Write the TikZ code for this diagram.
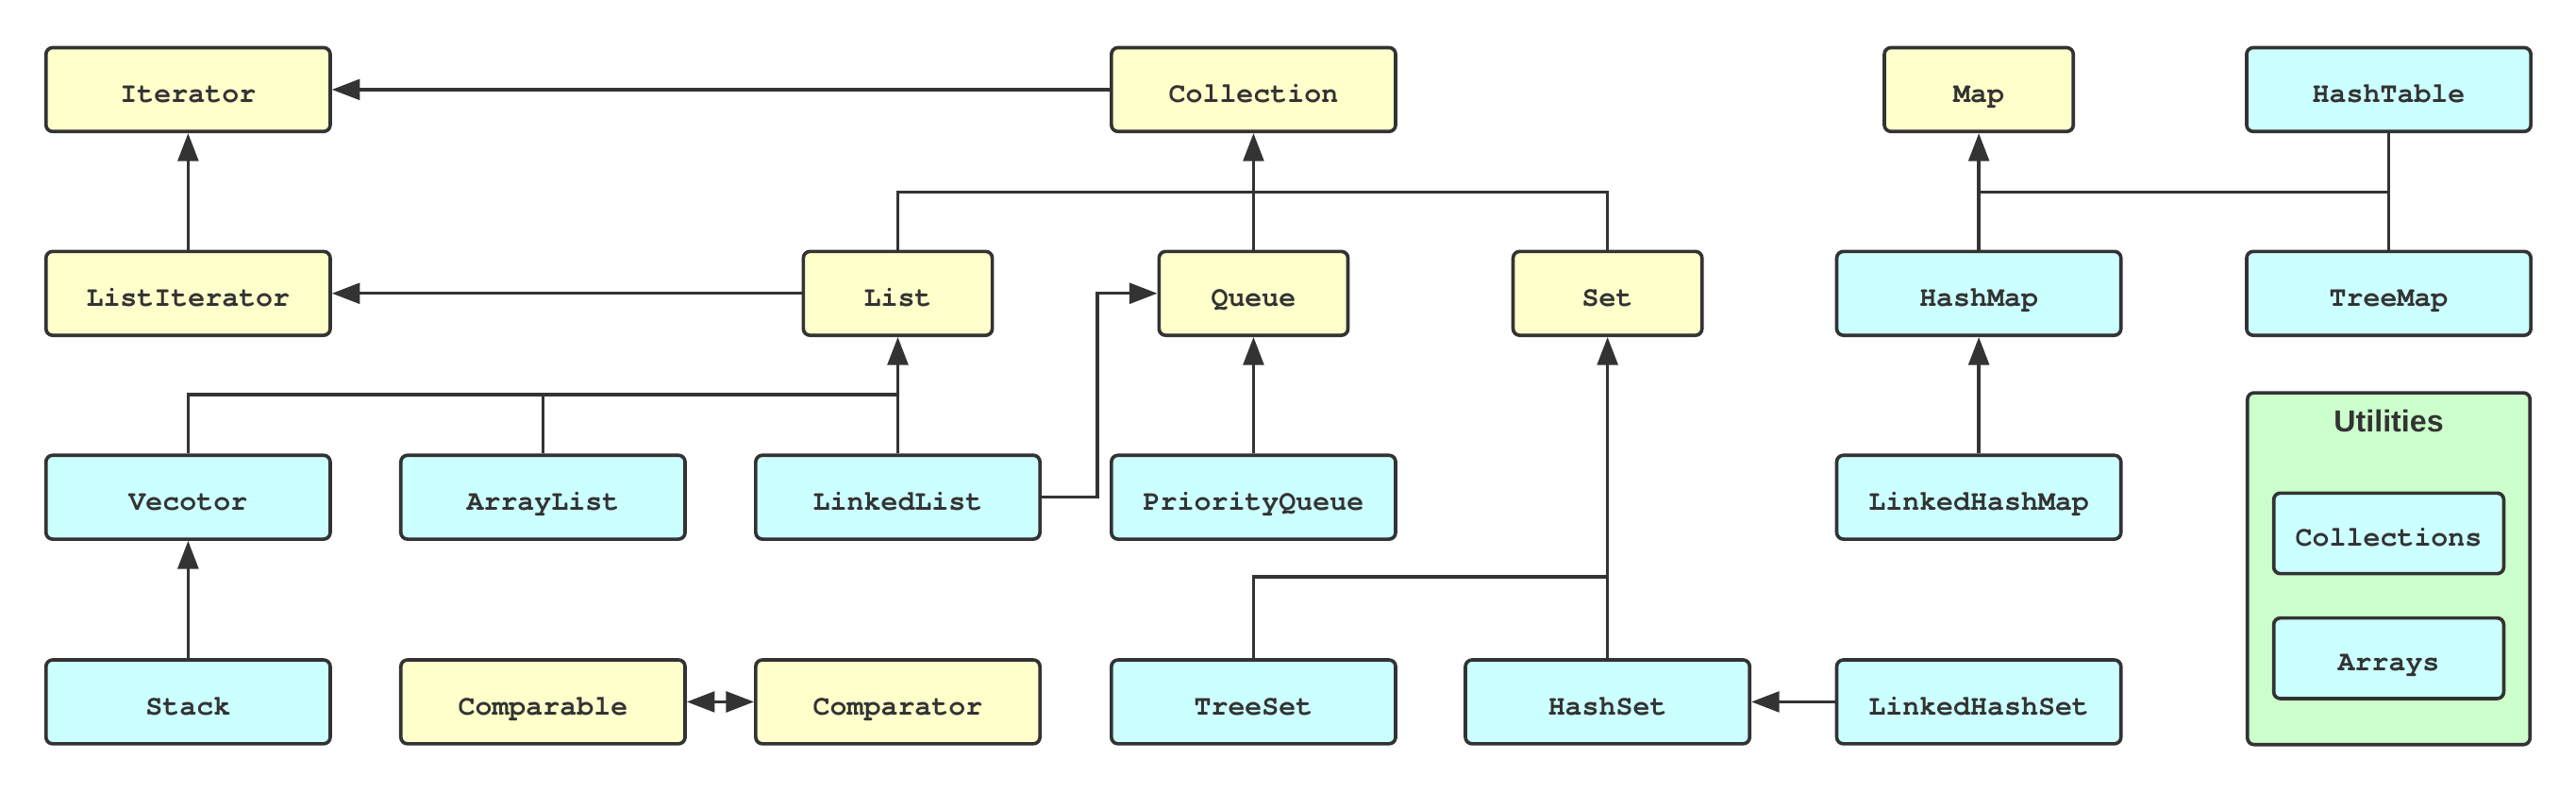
\documentclass[tikz,border=0pt]{standalone}
\usepackage{fontspec}
\newfontfamily\titlefont{Liberation Sans}
\newfontfamily\codefont{texgyrecursor-bold.otf}
\usetikzlibrary{arrows.meta}
\definecolor{ink}{HTML}{333333}
\definecolor{yel}{HTML}{FFFFCC}
\definecolor{cya}{HTML}{CCFFFF}
\definecolor{grn}{HTML}{CCFFCC}
\tikzset{
  box/.style={draw=ink, line width=2.1pt, rounded corners=4pt, minimum height=51pt,
    inner sep=0pt, text=ink, font=\codefont\fontsize{17.2}{20}\selectfont,
    text height=17.6pt, text depth=2pt},
  ybox/.style={box, fill=yel},
  cbox/.style={box, fill=cya},
  wide/.style={minimum width=173pt},
  narrow/.style={minimum width=115pt},
  conn/.style={draw=ink, line width=1.9pt},
  arr/.style={conn, -{Triangle[length=17pt,width=12.5pt]}},
  darr/.style={conn, {Triangle[length=17pt,width=12.5pt]}-{Triangle[length=17pt,width=12.5pt]}},
}
\begin{document}
\begin{tikzpicture}[x=1pt,y=-1pt]
\useasboundingbox (0,0) rectangle (1568,482);
% row 1
\node[ybox,wide] (Iterator) at (114.5,54.5) {Iterator};
\node[ybox,wide] (Collection) at (763,54.5) {Collection};
\node[ybox,narrow] (Map) at (1204.5,54.5) {Map};
\node[cbox,wide] (HashTable) at (1454,54.5) {HashTable};
% row 2
\node[ybox,wide] (ListIterator) at (114.5,178.5) {ListIterator};
\node[ybox,narrow] (List) at (546.5,178.5) {List};
\node[ybox,narrow] (Queue) at (763,178.5) {Queue};
\node[ybox,narrow] (Set) at (978.5,178.5) {Set};
\node[cbox,wide] (HashMap) at (1204.5,178.5) {HashMap};
\node[cbox,wide] (TreeMap) at (1454,178.5) {TreeMap};
% row 3
\node[cbox,wide] (Vecotor) at (114.5,302.5) {Vecotor};
\node[cbox,wide] (ArrayList) at (330.5,302.5) {ArrayList};
\node[cbox,wide] (LinkedList) at (546.5,302.5) {LinkedList};
\node[cbox,wide] (PriorityQueue) at (763,302.5) {PriorityQueue};
\node[cbox,wide] (LinkedHashMap) at (1204.5,302.5) {LinkedHashMap};
% row 4
\node[cbox,wide] (Stack) at (114.5,427) {Stack};
\node[ybox,wide] (Comparable) at (330.5,427) {Comparable};
\node[ybox,wide] (Comparator) at (546.5,427) {Comparator};
\node[cbox,wide] (TreeSet) at (763,427) {TreeSet};
\node[cbox,wide] (HashSet) at (978.5,427) {HashSet};
\node[cbox,wide] (LinkedHashSet) at (1204.5,427) {LinkedHashSet};
% utilities
\node[draw=ink, line width=2.1pt, rounded corners=4pt, fill=grn, minimum width=172pt, minimum height=214pt] (Utilities) at (1454,346) {};
\node[text=ink, font=\titlefont\bfseries\fontsize{18.5}{20}\selectfont] (UtilTitle) at (1454,256) {Utilities};
\node[cbox, minimum width=140pt, minimum height=49pt] (Collections) at (1454,324.5) {Collections};
\node[cbox, minimum width=140pt, minimum height=49pt] (Arrays) at (1454,400.5) {Arrays};
% connectors
\coordinate (cbus) at (0,117);
\coordinate (lbus) at (0,240);
\coordinate (sbus) at (0,351);
\draw[arr] (Collection.west) -- (Iterator.east);
\draw[arr] (ListIterator.north) -- (Iterator.south);
\draw[arr] (List.west) -- (ListIterator.east);
\draw[arr] (Queue.north) -- (Collection.south);
\draw[conn] (List.north) |- (cbus -| Set.north) -- (Set.north);
\draw[arr] (LinkedList.north) -- (List.south);
\draw[conn] (Vecotor.north) |- (lbus -| LinkedList.north);
\draw[conn] (ArrayList.north) -- (lbus -| ArrayList.north);
\draw[arr] (LinkedList.east) -- ++(34,0) |- (Queue.west);
\draw[arr] (PriorityQueue.north) -- (Queue.south);
\draw[arr] (Stack.north) -- (Vecotor.south);
\draw[darr] (Comparable.east) -- (Comparator.west);
\draw[arr] (HashSet.north) -- (Set.south);
\draw[conn] (TreeSet.north) |- (sbus -| HashSet.north);
\draw[arr] (LinkedHashSet.west) -- (HashSet.east);
\draw[arr] (HashMap.north) -- (Map.south);
\draw[conn] (HashTable.south) -- (TreeMap.north);
\draw[conn] (cbus -| HashMap.north) -- (cbus -| TreeMap.north);
\draw[arr] (LinkedHashMap.north) -- (HashMap.south);
\end{tikzpicture}
\end{document}
